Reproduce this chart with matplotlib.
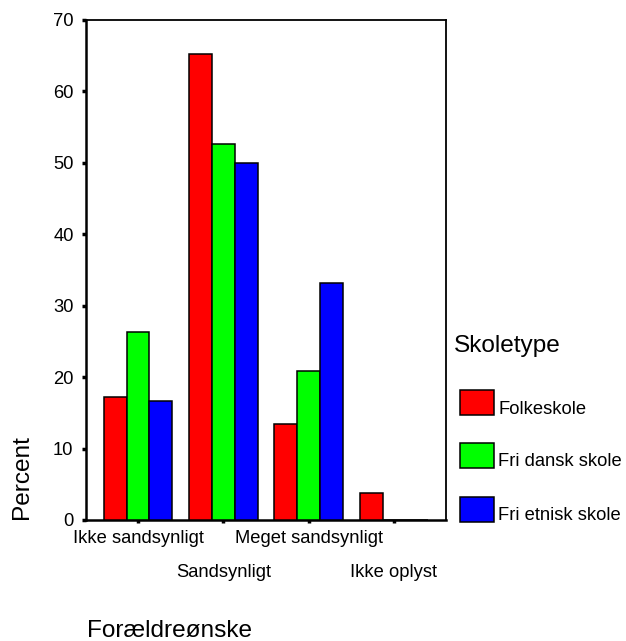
import matplotlib
matplotlib.use("Agg")
import matplotlib.pyplot as plt
import numpy as np
from matplotlib.patches import Rectangle

plt.rcParams['font.family'] = ['Liberation Sans', 'DejaVu Sans']

categories = ["Ikke sandsynligt", "Sandsynligt", "Meget sandsynligt", "Ikke oplyst"]
series_names = ["Folkeskole", "Fri dansk skole", "Fri etnisk skole"]
folkeskole = [17.2, 65.3, 13.4, 3.8]
fri_dansk = [26.3, 52.7, 20.9, 0.0]
fri_etnisk = [16.7, 50.0, 33.2, 0.0]
colors = ["#FF0000", "#00FF00", "#0000FF"]
y_ticks = [0, 10, 20, 30, 40, 50, 60, 70]

W, H = 626, 641
fig = plt.figure(figsize=(W / 100, H / 100), dpi=100)
ax = fig.add_axes([86 / W, 1 - 520 / H, (446 - 86) / W, (520 - 20) / H])

x = np.arange(len(categories))
width = 0.268
for i, (vals, col) in enumerate(zip([folkeskole, fri_dansk, fri_etnisk], colors)):
    ax.bar(x + (i - 1) * width, vals, width, color=col, edgecolor="black",
           linewidth=1.1, zorder=3)

ax.set_xlim(-0.61, 3.61)
ax.set_ylim(0, 70)
ax.set_yticks(y_ticks)
ax.set_yticklabels([str(t) for t in y_ticks], fontsize=13.2)
ax.set_xticks(x)
ax.set_xticklabels(categories, fontsize=13.2)

for s in ["left", "bottom"]:
    ax.spines[s].set_linewidth(1.8)
for s in ["top", "right"]:
    ax.spines[s].set_linewidth(1.3)

ax.tick_params(axis="y", direction="out", length=3, width=2.5, pad=6)
ax.tick_params(axis="x", direction="out", length=2.5, width=2.5, pad=5)
for i, t in enumerate(ax.xaxis.get_major_ticks()):
    if i % 2 == 1:
        t.set_pad(29.5)

# axis titles
fig.text(22 / W, 1 - 477 / H, "Percent", rotation=90, fontsize=17.6,
         ha="center", va="center")
fig.text(87 / W, 1 - 637 / H, "Forældreønske", fontsize=17.6,
         ha="left", va="baseline")

# legend
fig.text(454 / W, 1 - 352 / H, "Skoletype", fontsize=17.6, ha="left", va="baseline")
patch_tops = [390, 443, 497]
for name, col, top in zip(series_names, colors, patch_tops):
    fig.patches.append(Rectangle((460 / W, 1 - (top + 25) / H), 34 / W, 25 / H,
                                 facecolor=col, edgecolor="black", linewidth=1.1,
                                 transform=fig.transFigure, figure=fig))
    fig.text(498 / W, 1 - (top + 23.5) / H, name, fontsize=13.2,
             ha="left", va="baseline")

fig.savefig("out.png", dpi=100)
